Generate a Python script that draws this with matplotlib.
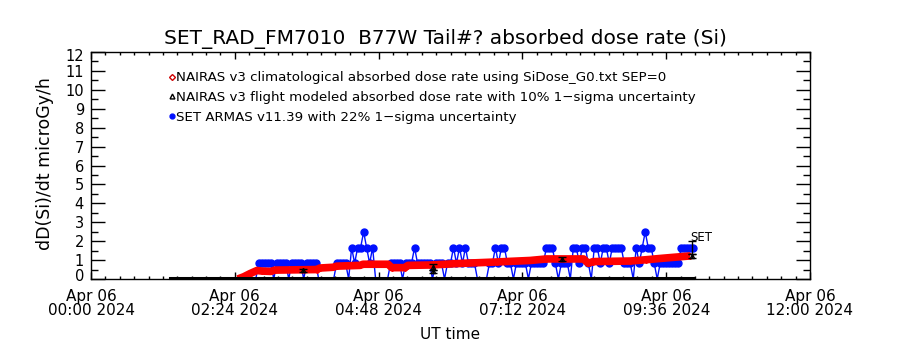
"""SET_RAD dose-rate flight plot: NAIRAS climatology, NAIRAS flight model and ARMAS."""
import numpy as np

import matplotlib
matplotlib.use("Agg")
import matplotlib.pyplot as plt  # noqa: E402
from matplotlib.lines import Line2D  # noqa: E402

TITLE = "SET_RAD_FM7010  B77W Tail#? absorbed dose rate (Si)"
XTICK_HOURS = [0.0, 2.4, 4.8, 7.2, 9.6, 12.0]
XTICK_LABELS = ["Apr 06\n00:00 2024", "Apr 06\n02:24 2024", "Apr 06\n04:48 2024",
                "Apr 06\n07:12 2024", "Apr 06\n09:36 2024", "Apr 06\n12:00 2024"]
YTICKS = list(range(0, 13))

# NAIRAS climatological (red), hours UT / microGy/h
CLIM_T = [2.45, 2.55, 2.65, 2.77, 2.85, 3.00, 3.07, 3.77, 3.82, 4.04, 4.10,
          4.49, 4.54, 4.96, 5.02, 5.24, 5.29, 5.66, 6.21, 6.77, 7.33, 7.60,
          8.22, 8.30, 8.38, 9.00, 9.27, 9.55, 10.00]
CLIM_V = [0.00, 0.12, 0.28, 0.45, 0.42, 0.40, 0.47, 0.50, 0.58, 0.62, 0.68,
          0.72, 0.78, 0.78, 0.60, 0.60, 0.72, 0.74, 0.83, 0.90, 0.98, 1.06,
          1.06, 0.83, 0.92, 0.95, 1.02, 1.10, 1.22]

# NAIRAS flight modelled (black): baseline track and points with 1-sigma
FLIGHT_LINE_T = [1.32, 10.05]
FLIGHT_LINE_V = [0.07, 0.07]
FLIGHT_T = [3.54, 5.71, 5.71, 7.86, 10.03]
FLIGHT_V = [0.45, 0.64, 0.40, 1.06, 1.22]
FLIGHT_ERR = [0.07, 0.14, 0.10, 0.10, 0.11]

# SET ARMAS (blue), 3-minute samples starting at 02:45 UT
ARMAS_T0 = 2.75
ARMAS_DT = 0.05
ARMAS_V = [
    0, 0.83, 0.83, 0.83, 0.83, 0.83, 0, 0.83, 0.83, 0.83,            # 2.75
    0.83, 0, 0.83, 0.83, 0.83, 0.83, 0, 0.83, 0.83, 0.83,            # 3.25
    0.83, 0, 0, 0, 0, 0, 0, 0.83, 0.83, 0.83,                        # 3.75
    0.83, 0, 1.66, 0.83, 1.66, 1.66, 2.49, 1.66, 0.83, 1.66,         # 4.25
    0, 0, 0, 0, 0, 0.83, 0.83, 0.83, 0.83, 0,                        # 4.75
    0.83, 0.83, 0.83, 1.66, 0.83, 0.83, 0.83, 0.83, 0.83, 0,         # 5.25
    0.83, 0.83, 0.83, 0, 0.83, 0.83, 1.66, 0.83, 1.66, 0.83,         # 5.75
    1.66, 0.83, 0.83, 0.83, 0, 0, 0, 0, 0.83, 0.83,                  # 6.25
    1.66, 0.83, 1.66, 1.66, 0.83, 0.83, 0, 0.83, 0.83, 0.83,         # 6.75
    0.83, 0, 0.83, 0.83, 0.83, 0.83, 0.83, 1.66, 1.66, 1.66,         # 7.25
    0.83, 0, 0.83, 0.83, 0.83, 0, 1.66, 1.66, 0.83, 1.66,            # 7.75
    1.66, 0.83, 0, 1.66, 1.66, 0.83, 1.66, 1.66, 0.83, 1.66,         # 8.25
    1.66, 1.66, 1.66, 0.83, 0.83, 0.83, 0, 1.66, 0.83, 1.66,         # 8.75
    2.49, 1.66, 1.66, 0.83, 0, 0.83, 0.83, 0.83, 0.83, 0.83,         # 9.25
    0.83, 0.83, 1.66, 1.66, 1.66, 1.66, 1.66,                        # 9.75
]
SET_T = [10.03]
SET_V = [1.66]
SET_ERR = [0.36]

armas_t = ARMAS_T0 + ARMAS_DT * np.arange(len(ARMAS_V))
armas_v = np.array(ARMAS_V, dtype=float)

plt.rcParams["font.family"] = ["DejaVu Sans"]
fig = plt.figure(figsize=(9, 3.5), dpi=100)
ax = fig.add_axes([91 / 900, 1 - 279 / 350, 719 / 900, 227 / 350])

# ARMAS: thin connecting line, dots only where there is a reading
ax.plot(armas_t, armas_v, color="#0010ff", lw=1.0, zorder=2)
ax.plot(armas_t, np.where(armas_v > 0, armas_v, np.nan), ls="none", marker="o",
        ms=5, color="#0010ff", mec="#0010ff", zorder=2)

ax.plot(CLIM_T, CLIM_V, color="#ff0000", lw=5.5, marker="D", ms=3,
        mfc="none", mec="#ff0000", zorder=3, solid_capstyle="butt")

ax.plot(FLIGHT_LINE_T, FLIGHT_LINE_V, color="black", lw=2.2, zorder=4,
        clip_on=False)
ax.errorbar(FLIGHT_T, FLIGHT_V, yerr=FLIGHT_ERR, fmt="^", ms=3, mfc="none",
            mec="black", ecolor="black", elinewidth=1, capsize=3, capthick=1,
            zorder=5)
ax.errorbar(SET_T, SET_V, yerr=SET_ERR, fmt="none", ecolor="black",
            elinewidth=1, capsize=3, capthick=1, zorder=5)
ax.text(SET_T[0] - 0.03, SET_V[0] + 0.56, "SET", fontsize=8.5, ha="left",
        va="center")

ax.set_xlim(0, 12)
ax.set_ylim(0, 12)
ax.set_xticks(XTICK_HOURS)
ax.set_xticklabels(XTICK_LABELS)
ax.set_xticks(np.arange(0, 12.001, 0.24), minor=True)
ax.set_yticks(YTICKS)
# end labels are nudged inside the axis range, so they are drawn separately
ax.set_yticklabels([""] + [str(v) for v in YTICKS[1:-1]] + [""])
ax.set_yticks(np.arange(0, 12.001, 0.5), minor=True)
ax.tick_params(axis="both", which="both", direction="in", top=True,
               right=True, width=1)
ax.tick_params(axis="x", which="major", length=5, pad=7, labelsize=11)
ax.tick_params(axis="x", which="minor", length=2.5)
ax.tick_params(axis="y", which="major", length=10, pad=5, labelsize=10.5)
ax.tick_params(axis="y", which="minor", length=5)
for lbl in ax.get_xticklabels():
    lbl.set_linespacing(0.95)
for v, dy in ((YTICKS[0], 1.5), (YTICKS[-1], -3.5)):
    ax.annotate(str(v), xy=(0, v), xycoords=("axes fraction", "data"),
                xytext=(-5, dy), textcoords="offset points", fontsize=10.5,
                ha="right", va="center")
for s in ax.spines.values():
    s.set_linewidth(1)

ax.set_title(TITLE, fontsize=14.5, pad=6, x=0.493)
ax.set_xlabel("UT time", fontsize=11)
ax.set_ylabel("dD(Si)/dt microGy/h", fontsize=12.5)
ax.xaxis.set_label_coords(0.5, -0.21)
ax.yaxis.set_label_coords(-0.052, 0.51)

handles = [
    Line2D([], [], ls="none", marker="D", ms=3, mfc="none", mec="#d00000"),
    Line2D([], [], ls="none", marker="^", ms=3.5, mfc="none", mec="black"),
    Line2D([], [], ls="none", marker="o", ms=3.5, color="#0010ff"),
]
labels = [
    "NAIRAS v3 climatological absorbed dose rate using SiDose_G0.txt SEP=0",
    "NAIRAS v3 flight modeled absorbed dose rate with 10% 1\u2212sigma uncertainty",
    "SET ARMAS v11.39 with 22% 1\u2212sigma uncertainty",
]
ax.legend(handles, labels, loc="upper left", bbox_to_anchor=(0.109, 0.915),
          frameon=False, fontsize=9.6, handlelength=0.4, handletextpad=0.1,
          labelspacing=0.5, borderaxespad=0, borderpad=0)

fig.savefig("out.png", dpi=100)
